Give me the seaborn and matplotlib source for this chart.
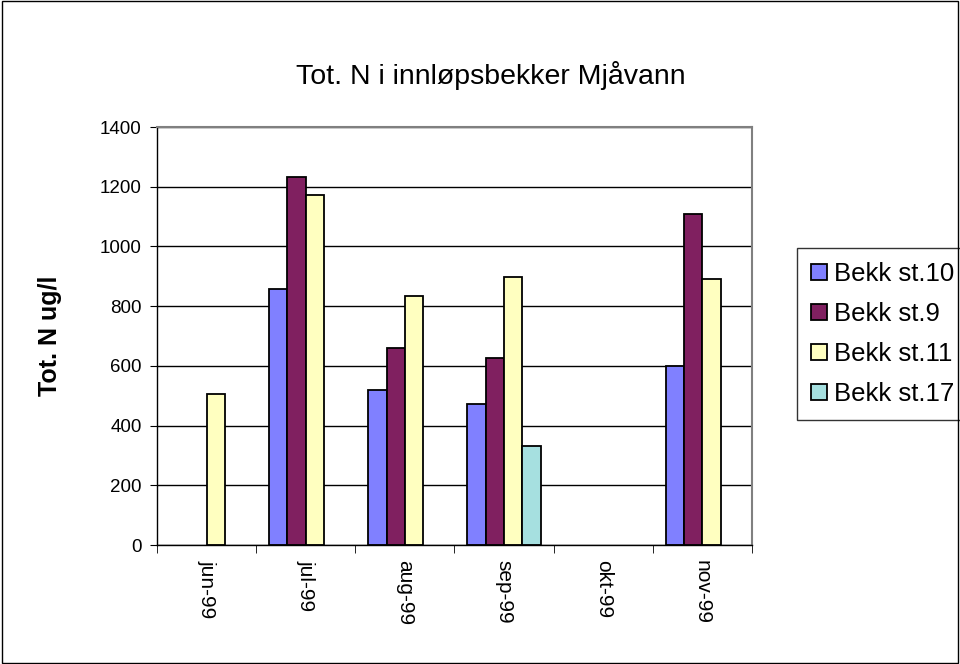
import numpy as np
import pandas as pd
import matplotlib
matplotlib.use("Agg")
import matplotlib.pyplot as plt
import seaborn as sns
from matplotlib.patches import Rectangle

months = ["jun-99", "jul-99", "aug-99", "sep-99", "okt-99", "nov-99"]
stations = ["Bekk st.10", "Bekk st.9", "Bekk st.11", "Bekk st.17"]
st10 = [np.nan, 857, 520, 472, np.nan, 598]
st9 = [np.nan, 1232, 660, 625, np.nan, 1110]
st11 = [507, 1172, 835, 898, np.nan, 890]
st17 = [np.nan, np.nan, np.nan, 332, np.nan, np.nan]
colors = ["#8080FF", "#802060", "#FFFFC0", "#A6E0E0"]

rows = []
for name, vals in zip(stations, [st10, st9, st11, st17]):
    for m, v in zip(months, vals):
        rows.append({"month": m, "station": name, "value": v})
df = pd.DataFrame(rows)

sns.set_style("white")
plt.rcParams["font.family"] = ["Liberation Sans", "DejaVu Sans"]
plt.rcParams["text.color"] = "black"
plt.rcParams["xtick.color"] = "black"
plt.rcParams["ytick.color"] = "black"

fig = plt.figure(figsize=(9.6, 6.64), dpi=100)
ax = fig.add_axes([157 / 960, 119 / 664, 595 / 960, 418 / 664])

sns.barplot(data=df, x="month", y="value", hue="station", order=months,
            hue_order=stations, palette=colors, saturation=1, width=0.74,
            dodge=True, edgecolor="black", linewidth=1.3, ax=ax, legend=True)

ax.set_ylim(0, 1400)
ax.set_xlim(-0.5, len(months) - 0.5)
ax.set_yticks(range(0, 1401, 200))
ax.yaxis.grid(True, color="black", linewidth=1)
ax.set_axisbelow(True)
ax.tick_params(axis="y", labelsize=13.5, length=5, direction="out", left=True, pad=6)
ax.set_xticks(range(len(months)))
ax.set_xticklabels(months, rotation=270, fontsize=15)
ax.tick_params(axis="x", which="major", length=0, pad=11)
ax.set_xticks(np.arange(-0.5, len(months), 1), minor=True)
ax.tick_params(axis="x", which="minor", length=6, bottom=True)
ax.set_xlabel("")
ax.set_ylabel("")

for side in ["left", "bottom"]:
    ax.spines[side].set_color("black")
    ax.spines[side].set_linewidth(1)
for side in ["top", "right"]:
    ax.spines[side].set_color("#808080")
    ax.spines[side].set_linewidth(1.5)

fig.text(491 / 960, 1 - 75 / 664, "Tot. N i innløpsbekker Mjåvann", ha="center", va="center", fontsize=20.5)
fig.text(50 / 960, 1 - 336 / 664, "Tot. N ug/l", rotation=90, ha="center", va="center",
         fontsize=18, fontweight="bold")

leg = ax.legend(loc="upper left", bbox_to_anchor=(797 / 960, 1 - 248 / 664),
                bbox_transform=fig.transFigure, borderaxespad=0, fontsize=18.5,
                frameon=True, fancybox=False, handlelength=0.6, handleheight=0.6,
                handletextpad=0.3, labelspacing=0.62, borderpad=0.55)
leg.get_frame().set_edgecolor("black")
leg.get_frame().set_linewidth(1)

fig.patches.append(Rectangle((0.002, 0.002), 0.996, 0.996, transform=fig.transFigure,
                             fill=False, edgecolor="black", linewidth=1))

fig.savefig("out.png", dpi=100)
